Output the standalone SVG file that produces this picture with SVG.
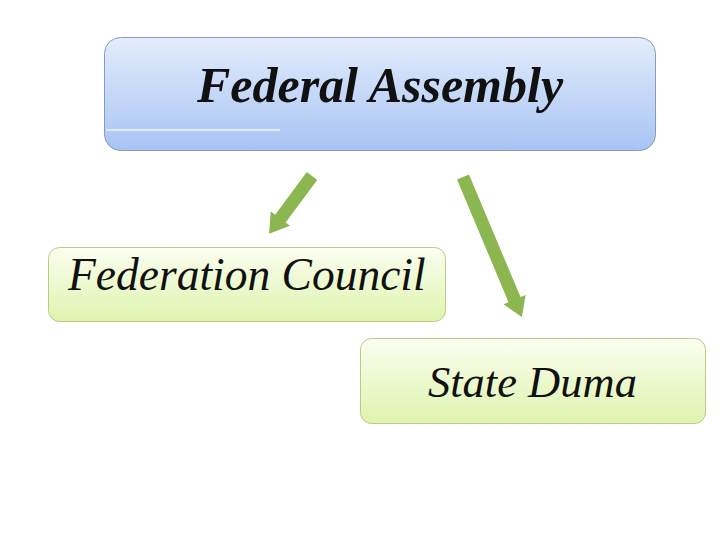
<svg xmlns="http://www.w3.org/2000/svg" width="720" height="540" viewBox="0 0 720 540">
<defs>
<linearGradient id="gBlue" x1="0" y1="0" x2="0" y2="1">
<stop offset="0" stop-color="#e3ecfc"/>
<stop offset="1" stop-color="#a8c4f4"/>
</linearGradient>
<linearGradient id="gGreen" x1="0" y1="0" x2="0" y2="1">
<stop offset="0" stop-color="#fbfef0"/>
<stop offset="1" stop-color="#def4ae"/>
</linearGradient>
</defs>
<style>
.blue{fill:url(#gBlue);stroke:#8a9bb8;stroke-width:1}
.green{fill:url(#gGreen);stroke:#b9cb86;stroke-width:1}
.t{font-family:"Liberation Serif","Times New Roman",serif;font-style:italic;fill:#111}
.arrow{fill:#8bb650;stroke:none}
</style>
<rect width="720" height="540" fill="#fff"/>
<g id="federal-assembly">
<rect class="blue" x="104.5" y="37.5" width="551" height="113" rx="16"/>
<line x1="106" y1="130" x2="280" y2="130" stroke="#eef4ff" stroke-width="1.5"/>
<text class="t" x="380" y="102" text-anchor="middle" font-size="50" font-weight="bold">Federal Assembly</text>
</g>
<g id="federation-council">
<rect class="green" x="48.5" y="247.5" width="397" height="74" rx="11"/>
<text class="t" x="68" y="290" font-size="45.5">Federation Council</text>
</g>
<g id="state-duma">
<rect class="green" x="360.5" y="338.5" width="345" height="85" rx="11"/>
<text class="t" x="428" y="397" font-size="44.5">State Duma</text>
</g>
<g id="connectors">
<path class="arrow" transform="translate(312,176) rotate(126.6)" d="M0,-6.5 L53,-6.5 L53,-12 L72,0 L53,12 L53,6.5 L0,6.5 Z"/>
<path class="arrow" transform="translate(463,177) rotate(67.2)" d="M0,-6.5 L133,-6.5 L133,-12 L152,0 L133,12 L133,6.5 L0,6.5 Z"/>
</g>
</svg>
